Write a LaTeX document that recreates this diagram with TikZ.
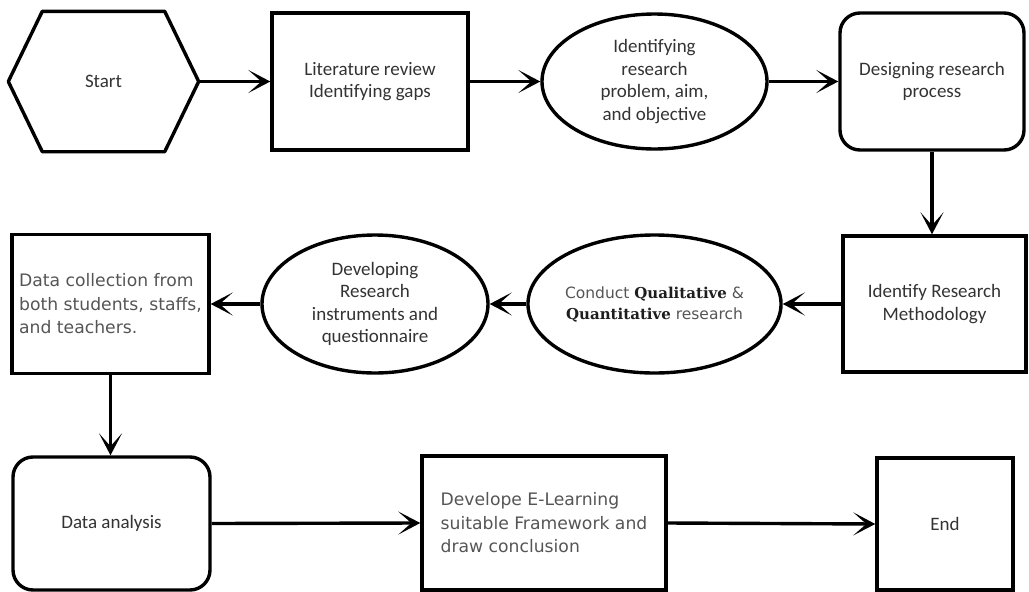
\documentclass[tikz,border=0pt]{standalone}
\usepackage{fontspec}
\setmainfont{Carlito}
\newfontfamily\verdfont{DejaVu Sans}
\newfontfamily\serifbold{DejaVu Serif}
\usetikzlibrary{shapes.geometric,arrows.meta}
\definecolor{txtdark}{HTML}{333333}
\definecolor{txtgray}{HTML}{555555}
\definecolor{txtbold}{HTML}{1E1E1E}

\begin{document}
\begin{tikzpicture}[x=1pt,y=-1pt,
  outline/.style={draw=black, line width=3.4pt, text=txtdark,
    font=\fontsize{19}{22.5}\selectfont, align=center, inner sep=2pt},
  plainbox/.style={outline, rectangle},
  roundbox/.style={outline, rectangle, rounded corners=20pt},
  oval/.style={outline, ellipse, inner sep=0pt},
  verd/.style={text=txtgray, font=\verdfont\fontsize{17.2}{23.5}\selectfont, align=left},
  flow/.style={line width=3.4pt, -{Stealth[length=22pt,width=23pt,inset=13pt]}}
]
\useasboundingbox (0,0) rectangle (1029,592);

% --- first row ---
\node[plainbox, draw=none, minimum width=187pt, minimum height=137pt] (start) at (103.5,81.5) {Start};
\draw[line width=3.4pt, line join=round]
  (start.west) -- ([xshift=34pt]start.north west) -- ([xshift=-34pt]start.north east)
  -- (start.east) -- ([xshift=-34pt]start.south east) -- ([xshift=34pt]start.south west) -- cycle;

\node[plainbox, minimum width=196pt, minimum height=137pt] (lit) at (370,81.5)
  {Literature review\\Identifying gaps};
\node[oval, minimum width=225pt, minimum height=135pt] (ident) at (654.5,81.5)
  {Identifying\\research\\problem, aim,\\and objective};
\node[roundbox, minimum width=184pt, minimum height=137pt] (design) at (932,81.5)
  {Designing research\\process};

% --- second row ---
\node[plainbox, minimum width=183pt, minimum height=136pt] (method) at (934.5,304)
  {Identify Research\\Methodology};
\node[oval, minimum width=225pt, minimum height=138pt, text=txtgray,
      font=\verdfont\fontsize{15.5}{21}\selectfont] (conduct) at (654.5,304)
  {Conduct {\color{txtbold}\serifbold\bfseries\fontsize{15}{21}\selectfont Qualitative} \&\\
   {\color{txtbold}\serifbold\bfseries\fontsize{15}{21}\selectfont Quantitative} research};
\node[oval, minimum width=226pt, minimum height=138pt] (develop) at (375,304)
  {Developing\\Research\\instruments and\\questionnaire};
\node[plainbox, verd, minimum width=197pt, minimum height=139pt] (collect) at (110.5,304)
  {Data collection from\\both students, staffs,\\and teachers.};

% --- third row ---
\node[roundbox, minimum width=197pt, minimum height=133pt] (analysis) at (111.5,523.5)
  {Data analysis};
\node[plainbox, verd, minimum width=244pt, minimum height=134pt] (frame) at (544,523)
  {Develope E-Learning\\suitable Framework and\\draw conclusion};
\node[plainbox, minimum width=136pt, minimum height=132pt] (end) at (945,524) {End};

% --- connectors ---
\draw[flow] (start.east) -- (lit.west);
\draw[flow] (lit.east) -- (ident.west);
\draw[flow] (ident.east) -- (design.west);
\draw[flow] (design.south) -- (design.south |- method.north);
\draw[flow] (method.west) -- (conduct.east);
\draw[flow] (conduct.west) -- (develop.east);
\draw[flow] (develop.west) -- (collect.east);
\draw[flow] (collect.south) -- (collect.south |- analysis.north);
\draw[flow] (analysis.east) -- (frame.west);
\draw[flow] (frame.east) -- (end.west);
\end{tikzpicture}
\end{document}
